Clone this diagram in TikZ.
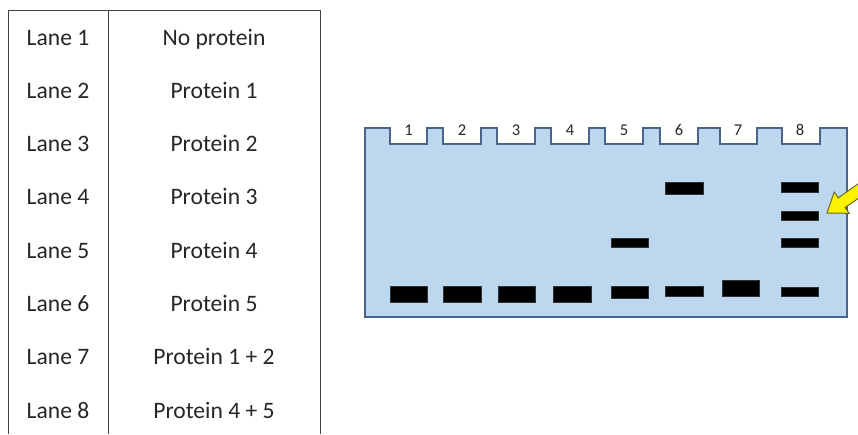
\documentclass[tikz,border=0pt]{standalone}
\usepackage{fontspec}
\setmainfont{Carlito}
\definecolor{gelfill}{HTML}{BDD7EE}
\definecolor{geledge}{HTML}{4A6388}
\definecolor{tabline}{HTML}{404040}
\definecolor{txt}{HTML}{262626}
\definecolor{arrowedge}{HTML}{6B6B2A}
\tikzset{
  tabtext/.style={anchor=base, text=txt, font=\fontsize{23.6}{28}\selectfont, inner sep=0pt},
  lanenum/.style={anchor=base, text=txt, font=\fontsize{16.5}{19}\selectfont, inner sep=0pt},
  band/.style={fill=black, draw=black!80, line width=0.4pt},
  tabrule/.style={draw=tabline, line width=1pt},
}
\begin{document}
\begin{tikzpicture}[x=1pt, y=-1pt]
\useasboundingbox (0,0) rectangle (858,434);
% table
\draw[tabrule] (8,434) -- (8,10) -- (320,10) -- (320,434);
\draw[tabrule] (108,10) -- (108,434);
\foreach \i/\p [count=\k from 0] in {1/No protein, 2/Protein 1, 3/Protein 2, 4/Protein 3, 5/Protein 4, 6/Protein 5, 7/Protein 1 + 2, 8/Protein 4 + 5}{
  \node[tabtext] (lane\i) at (58, 45+53.3*\k) {Lane \i};
  \node[tabtext] (prot\i) at (214, 45+53.3*\k) {\p};
}
% gel
\draw[fill=gelfill, draw=geledge, line width=1.3pt, line join=miter]
  (365,317) -- (365,128) -- (390,128) -- (390,144) -- (427,144) -- (427,128)
  -- (443,128) -- (443,144) -- (481,144) -- (481,128)
  -- (497,128) -- (497,144) -- (535,144) -- (535,128)
  -- (551,128) -- (551,144) -- (589,144) -- (589,128)
  -- (605,128) -- (605,144) -- (643,144) -- (643,128)
  -- (660,128) -- (660,144) -- (698,144) -- (698,128)
  -- (720,128) -- (720,144) -- (757,144) -- (757,128)
  -- (782,128) -- (782,144) -- (820,144) -- (820,128)
  -- (847,128) -- (847,317) -- cycle;
\foreach \n/\x in {1/408.5, 2/462, 3/516, 4/570, 5/624, 6/679, 7/738, 8/800}{
  \node[lanenum] (num\n) at (\x,135.5) {\n};
}
% bands
\draw[band] (390,286) rectangle (427,302);
\draw[band] (443,286) rectangle (481,302);
\draw[band] (498,286) rectangle (535,302);
\draw[band] (553,286) rectangle (591,302);
\draw[band] (611,286) rectangle (648,298);
\draw[band] (611,238) rectangle (648,247);
\draw[band] (665,286) rectangle (703,296);
\draw[band] (665,182) rectangle (703,194);
\draw[band] (722,280) rectangle (759,296);
\draw[band] (781,287) rectangle (818,296);
\draw[band] (781,238) rectangle (818,247);
\draw[band] (781,211) rectangle (818,220);
\draw[band] (781,182) rectangle (818,192);
% arrow
\begin{scope}
\clip (0,0) rectangle (858,434);
\draw[fill=yellow, draw=arrowedge, line width=1pt, line join=miter]
  (827,213) -- (849.2,213.3) -- (845.1,207.6) -- (877.9,184.6) -- (871.1,174.8)
  -- (838.3,197.8) -- (834.2,192.1) -- cycle;
\end{scope}
\end{tikzpicture}
\end{document}
